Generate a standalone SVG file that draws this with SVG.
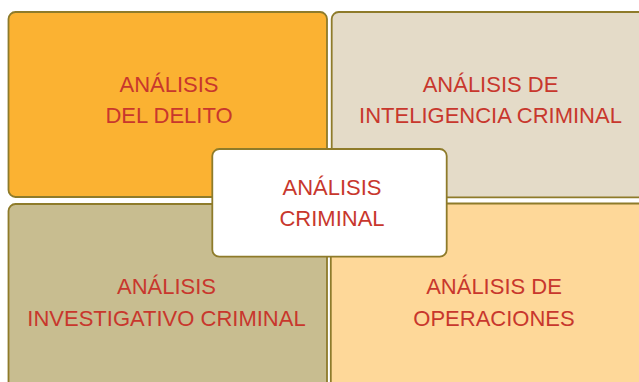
<svg xmlns="http://www.w3.org/2000/svg" width="639" height="382" viewBox="0 0 639 382">
<style>
.box{stroke:#8E7B2A;stroke-width:1.8}
.t{font-family:"Liberation Sans",Arial,sans-serif;font-size:22px;fill:#C8372D;text-anchor:middle}
</style>
<rect width="639" height="382" fill="#FFFFFF"/>
<g id="delito">
<rect class="box" x="8.5" y="12" width="318.5" height="185" rx="7" fill="#FBB232"/>
<text class="t" x="169" y="91.5">ANÁLISIS</text>
<text class="t" x="169" y="123">DEL DELITO</text>
</g>
<g id="inteligencia">
<rect class="box" x="331.7" y="12" width="320" height="185.3" rx="7" fill="#E4DBC8"/>
<text class="t" x="490.5" y="91.5">ANÁLISIS DE</text>
<text class="t" x="490.5" y="123">INTELIGENCIA CRIMINAL</text>
</g>
<g id="investigativo">
<rect class="box" x="8.5" y="204" width="318.5" height="190" rx="7" fill="#C8BD90"/>
<text class="t" x="166.5" y="293.5">ANÁLISIS</text>
<text class="t" x="166.5" y="326">INVESTIGATIVO CRIMINAL</text>
</g>
<g id="operaciones">
<rect class="box" x="330.8" y="203.5" width="320" height="190" rx="7" fill="#FED899"/>
<text class="t" x="494" y="294">ANÁLISIS DE</text>
<text class="t" x="494" y="326">OPERACIONES</text>
</g>
<g id="criminal">
<rect class="box" x="212.3" y="149" width="234.4" height="107.7" rx="7" fill="#FFFFFF"/>
<text class="t" x="332" y="195">ANÁLISIS</text>
<text class="t" x="332" y="226">CRIMINAL</text>
</g>
<g id="connectors"></g>
</svg>
